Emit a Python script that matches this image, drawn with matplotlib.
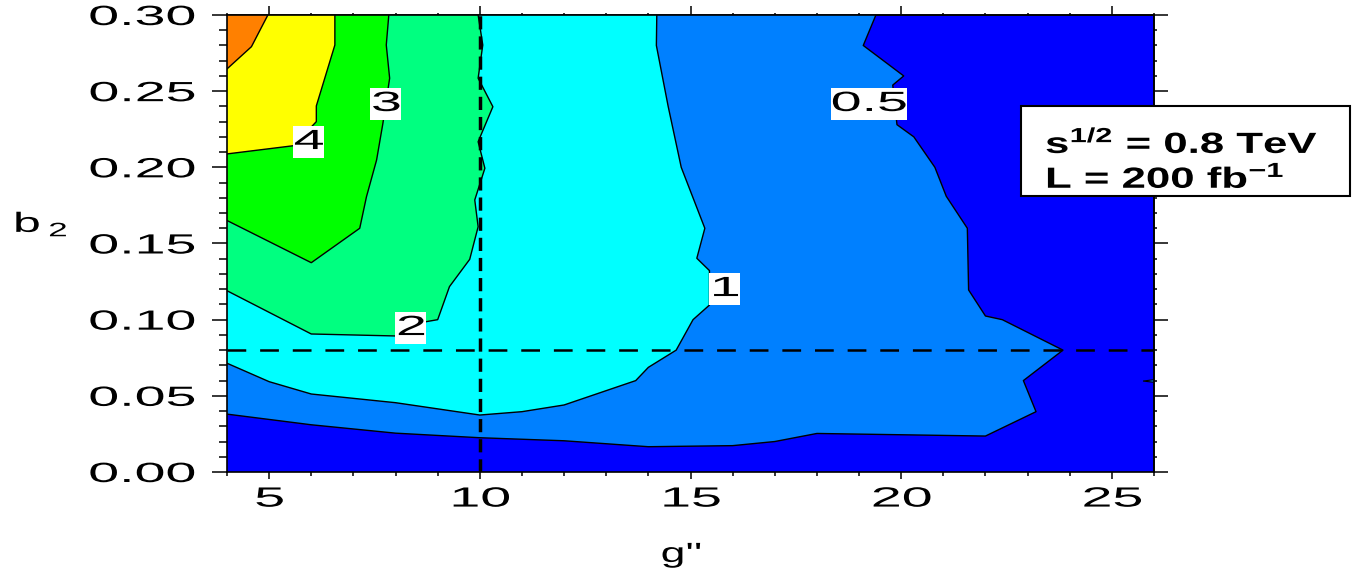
import matplotlib
matplotlib.use("Agg")
import matplotlib.pyplot as plt
from matplotlib.patheffects import AbstractPathEffect
from matplotlib.transforms import Affine2D
from matplotlib.patches import Rectangle
from matplotlib.ticker import FixedLocator

plt.rcParams['font.family'] = ['Liberation Sans', 'DejaVu Sans']
plt.rcParams['mathtext.fontset'] = 'custom'
plt.rcParams['mathtext.rm'] = 'Liberation Sans'
plt.rcParams['mathtext.it'] = 'Liberation Sans'
plt.rcParams['mathtext.bf'] = 'Liberation Sans:bold'
plt.rcParams['lines.scale_dashes'] = False

# ---- contour lines of the significance map (g'', b2) ----
g_05 = [4.0, 6.0, 8.0, 10.0, 12.0, 14.0, 16.0, 17.0, 18.0, 22.0, 23.2, 22.9,
        23.84, 22.4, 22.0, 21.6, 21.57, 21.07, 20.8, 20.3, 19.9, 19.8, 20.06,
        19.1, 19.4]
b_05 = [0.038, 0.031, 0.0255, 0.0225, 0.0205, 0.0166, 0.0173, 0.020, 0.0253,
        0.0236, 0.0396, 0.060, 0.080, 0.100, 0.1024, 0.1195, 0.160, 0.181,
        0.200, 0.220, 0.228, 0.254, 0.260, 0.280, 0.300]

g_1 = [4.0, 5.0, 6.0, 8.0, 10.0, 11.0, 12.0, 13.7, 14.0, 14.66, 15.06, 15.45,
       15.45, 15.15, 15.34, 14.78, 14.47, 14.19, 14.2]
b_1 = [0.0714, 0.0593, 0.0512, 0.0455, 0.0374, 0.0396, 0.044, 0.060, 0.0687,
       0.080, 0.100, 0.1096, 0.1322, 0.1403, 0.160, 0.200, 0.240, 0.280, 0.300]

g_2 = [4.0, 6.0, 8.0, 8.73, 9.0, 9.28, 9.76, 9.96, 9.88, 10.12, 9.96, 10.31,
       9.96, 10.07, 9.96]
b_2 = [0.119, 0.0906, 0.0893, 0.0987, 0.100, 0.1217, 0.1396, 0.161, 0.1786,
       0.1994, 0.2168, 0.2398, 0.2585, 0.2803, 0.300]

g_3 = [4.0, 6.0, 7.15, 7.31, 7.55, 7.70, 7.86, 7.78, 7.84]
b_3 = [0.1651, 0.1374, 0.160, 0.1807, 0.2048, 0.2289, 0.2585, 0.2803, 0.300]

g_4 = [4.0, 5.58, 6.12, 6.12, 6.56, 6.56]
b_4 = [0.2088, 0.2142, 0.230, 0.2403, 0.2803, 0.300]

g_5 = [4.0, 4.58, 4.97]
b_5 = [0.2646, 0.2792, 0.300]

# small 0.5-level island at the right edge
g_island = [25.74, 26.0, 26.0]
b_island = [0.0597, 0.0606, 0.0589]

levels = [0.5, 1, 2, 3, 4, 5]
label_texts = ['0.5', '1', '2', '3', '4']
label_g = [19.23, 15.81, 8.36, 7.77, 5.94]
label_b = [0.2416, 0.1201, 0.0945, 0.2416, 0.2166]

# reference point
g_ref = 10.0
b_ref = 0.08

x_ticks = [5, 10, 15, 20, 25]
x_tick_labels = ['5', '10', '15', '20', '25']
x_minor = list(range(4, 27))
y_ticks = [0.00, 0.05, 0.10, 0.15, 0.20, 0.25, 0.30]
y_tick_labels = ['0.00', '0.05', '0.10', '0.15', '0.20', '0.25', '0.30']
y_minor = [i / 100 for i in range(0, 31)]

level_colors = ['#0000FF', '#0080FF', '#00FFFF', '#00FF80', '#00FF00',
                '#FFFF00', '#FF8000']


class Stretch(AbstractPathEffect):
    """Widen glyph paths horizontally about a chosen anchor."""

    def __init__(self, sx, anchor='center'):
        super().__init__()
        self.sx = sx
        self.anchor = anchor

    def draw_path(self, renderer, gc, tpath, affine, rgbFace=None):
        if len(tpath.vertices) == 0:
            return
        v = affine.transform(tpath.vertices)
        x0, x1 = v[:, 0].min(), v[:, 0].max()
        xa = {'left': x0, 'right': x1, 'center': 0.5 * (x0 + x1)}[self.anchor]
        new = affine + Affine2D().translate(-xa, 0).scale(self.sx, 1).translate(xa, 0)
        renderer.draw_path(gc, tpath, new, rgbFace)


class BoxFit(AbstractPathEffect):
    """Resize a label box to width = slope * width + offset about its centre."""

    def __init__(self, slope, offset):
        super().__init__()
        self.slope = slope
        self.offset = offset

    def draw_path(self, renderer, gc, tpath, affine, rgbFace=None):
        v = affine.transform(tpath.vertices)
        x0, x1 = v[:, 0].min(), v[:, 0].max()
        w = x1 - x0
        s = (self.slope * w + self.offset) / w if w > 0 else 1.0
        xc = 0.5 * (x0 + x1)
        new = affine + Affine2D().translate(-xc, 0).scale(s, 1).translate(xc, 0)
        renderer.draw_path(gc, tpath, new, rgbFace)


W, H = 1355, 573
fig = plt.figure(figsize=(W / 100, H / 100), dpi=100)
ax = fig.add_axes([227 / W, 101 / H, 927 / W, 457 / H])
ax.set_xlim(4, 26)
ax.set_ylim(0, 0.30)
ax.set_facecolor(level_colors[0])

contours = [(g_05, b_05), (g_1, b_1), (g_2, b_2), (g_3, b_3), (g_4, b_4), (g_5, b_5)]
for (g, b), c in zip(contours, level_colors[1:]):
    ax.fill(list(g) + [4.0], list(b) + [0.30], facecolor=c, edgecolor='none', zorder=1)
for g, b in contours:
    ax.plot(g, b, color='black', lw=1.0, zorder=2)
ax.fill(g_island, b_island, facecolor=level_colors[1], edgecolor='black', lw=0.8, zorder=2)

ax.axvline(g_ref, color='black', lw=2.5, dashes=(9.5, 5.0), zorder=3)
ax.axhline(b_ref, color='black', lw=1.8, dashes=(13.5, 10.0), zorder=3)

for txt, gx, by in zip(label_texts, label_g, label_b):
    t = ax.text(gx, by, txt, ha='center', va='center', fontsize=20, zorder=4,
                bbox=dict(boxstyle='square,pad=0.1', fc='white', ec='none'))
    t.set_path_effects([Stretch(2.0, 'center')])
    t.get_bbox_patch().set_path_effects([BoxFit(1.95, -10.0)])

# ticks
ax.set_xticks(x_ticks)
ax.set_xticklabels(x_tick_labels)
ax.xaxis.set_minor_locator(FixedLocator(x_minor))
ax.set_yticks(y_ticks)
ax.set_yticklabels(y_tick_labels)
ax.yaxis.set_minor_locator(FixedLocator(y_minor))
ax.tick_params(axis='x', which='major', length=5, width=1.1, labelsize=20, pad=5.5,
               top=False)
ax.tick_params(axis='x', which='minor', length=2.9, width=1.1, top=False)
ax.tick_params(axis='y', which='major', length=10.8, width=1.1, labelsize=20, pad=12,
               right=False)
ax.tick_params(axis='y', which='minor', length=5.8, width=1.1, right=False)
for lab in ax.get_xticklabels():
    lab.set_path_effects([Stretch(2.0, 'center')])
for lab in ax.get_yticklabels():
    lab.set_path_effects([Stretch(2.0, 'right')])

sx = ax.secondary_xaxis('top')
sx.set_xticks(x_ticks)
sx.xaxis.set_minor_locator(FixedLocator(x_minor))
sx.tick_params(which='major', length=6.5, width=1.1, labeltop=False, labelbottom=False)
sx.tick_params(which='minor', length=1.5, width=1.1)
sy = ax.secondary_yaxis('right')
sy.set_yticks(y_ticks)
sy.yaxis.set_minor_locator(FixedLocator(y_minor))
sy.tick_params(which='major', length=10, width=1.1, labelright=False, labelleft=False)
sy.tick_params(which='minor', length=2, width=1.1)

for a in (ax, sx, sy):
    for s in a.spines.values():
        s.set_linewidth(1.2)

# axis titles
ax.set_xlabel("g''", fontsize=20, va='baseline')
ax.xaxis.set_label_coords((681 - 227) / 927, (472 - 562) / 457)
ax.xaxis.label.set_path_effects([Stretch(1.6, 'center')])
ax.set_ylabel(r'b$\,_2$', fontsize=20, rotation=0, ha='left', va='baseline')
ax.yaxis.set_label_coords((13 - 227) / 927, (472 - 232) / 457)
ax.yaxis.label.set_path_effects([Stretch(1.8, 'left')])

# run conditions box
fig.add_artist(Rectangle((1021 / W, 1 - 196 / H), 329 / W, 90 / H,
                         transform=fig.transFigure, fc='white', ec='black',
                         lw=1.5, zorder=5))
fig.text(1045 / W, 1 - 153 / H, r's$^{\mathbf{1/2}}$ = 0.8 TeV', fontsize=21,
         fontweight='bold', ha='left', va='baseline', zorder=6,
         path_effects=[Stretch(1.5, 'left')])
fig.text(1045 / W, 1 - 188 / H, r'L = 200 fb$^{\mathbf{-1}}$', fontsize=21,
         fontweight='bold', ha='left', va='baseline', zorder=6,
         path_effects=[Stretch(1.5, 'left')])

fig.savefig('out.png', dpi=100)
